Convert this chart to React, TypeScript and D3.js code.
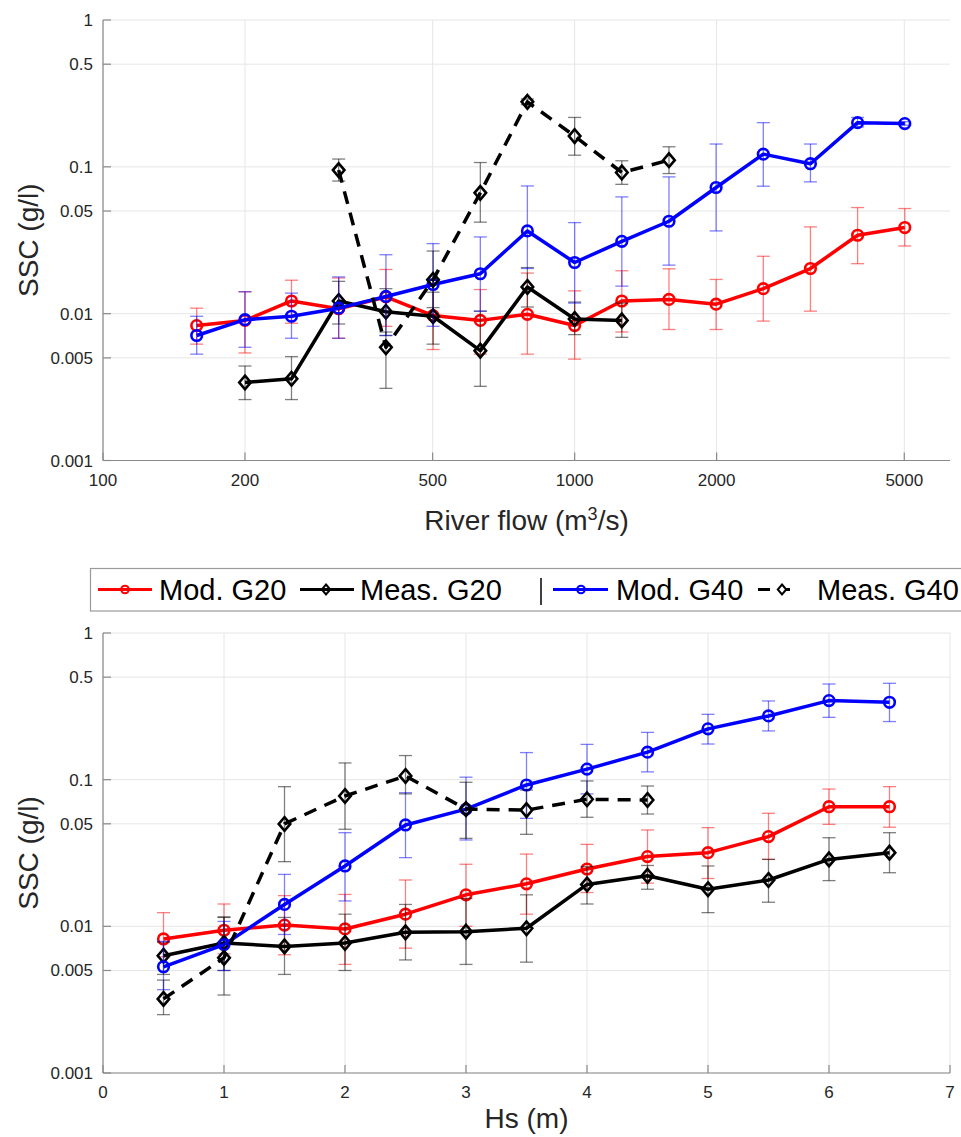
import React from "react";
import * as d3 from "d3";

// ---------- Data ----------
const flowBins = [158, 200, 251, 316, 398, 501, 631, 794, 1000, 1259, 1585, 1995, 2512, 3162, 3981, 5012];
const flowTicks = [100, 200, 500, 1000, 2000, 5000];
const sscTicks = [0.001, 0.005, 0.01, 0.05, 0.1, 0.5, 1];
const sscTickLabels = ["0.001", "0.005", "0.01", "0.05", "0.1", "0.5", "1"];

const topModG20 = [0.0083, 0.009, 0.0122, 0.0108, 0.013, 0.0097, 0.009, 0.0099, 0.0083, 0.0122, 0.0125, 0.0116, 0.0148, 0.0203, 0.0342, 0.0386];
const topModG20Hi = [0.0109, 0.0141, 0.0169, 0.0175, 0.02, 0.0171, 0.0146, 0.0189, 0.0143, 0.0196, 0.0202, 0.0171, 0.0246, 0.039, 0.0528, 0.052];
const topModG20Lo = [0.0062, 0.0054, 0.0086, 0.0068, 0.0082, 0.0057, 0.0053, 0.0053, 0.0049, 0.0075, 0.0078, 0.0078, 0.0089, 0.0104, 0.0219, 0.0289];

const topModG40 = [0.0071, 0.0091, 0.0096, 0.0109, 0.0131, 0.0158, 0.0187, 0.0366, 0.0223, 0.0311, 0.0426, 0.0723, 0.122, 0.105, 0.2, 0.197];
const topModG40Hi = [0.0096, 0.0141, 0.0138, 0.0178, 0.0252, 0.03, 0.0333, 0.0741, 0.0417, 0.0624, 0.0854, 0.143, 0.2, 0.143, 0.217, 0.203];
const topModG40Lo = [0.0053, 0.0059, 0.0068, 0.0068, 0.0071, 0.0082, 0.0104, 0.0203, 0.0118, 0.0154, 0.0214, 0.0366, 0.0738, 0.079, 0.187, 0.192];

const topMeasG20 = [null, 0.0034, 0.0036, 0.0122, 0.0103, 0.0096, 0.0056, 0.0152, 0.0092, 0.009, null, null, null, null, null, null];
const topMeasG20Hi = [null, 0.0044, 0.0051, 0.0166, 0.0148, 0.014, 0.0104, 0.0206, 0.012, 0.0118, null, null, null, null, null, null];
const topMeasG20Lo = [null, 0.0026, 0.0026, 0.0085, 0.0071, 0.0062, 0.0032, 0.0111, 0.0072, 0.0069, null, null, null, null, null, null];

const topMeasG40 = [null, null, null, 0.095, 0.0059, 0.017, 0.0665, 0.277, 0.162, 0.0915, 0.111, null, null, null, null, null];
const topMeasG40Hi = [null, null, null, 0.113, 0.0075, 0.0267, 0.107, 0.29, 0.217, 0.11, 0.137, null, null, null, null, null];
const topMeasG40Lo = [null, null, null, 0.08, 0.0031, 0.011, 0.042, 0.265, 0.12, 0.076, 0.09, null, null, null, null, null];

const hsBins = [0.5, 1, 1.5, 2, 2.5, 3, 3.5, 4, 4.5, 5, 5.5, 6, 6.5];
const hsTicks = [0, 1, 2, 3, 4, 5, 6, 7];

const botModG20 = [0.0082, 0.0094, 0.0102, 0.0096, 0.0121, 0.0164, 0.0195, 0.0246, 0.0299, 0.0318, 0.0409, 0.0654, 0.0654];
const botModG20Hi = [0.0124, 0.0142, 0.0162, 0.0165, 0.0207, 0.0265, 0.0311, 0.0362, 0.0454, 0.0471, 0.059, 0.0863, 0.0896];
const botModG20Lo = [0.0062, 0.0065, 0.0064, 0.0055, 0.0071, 0.01, 0.0121, 0.017, 0.0197, 0.0212, 0.0286, 0.0496, 0.0474];

const botMeasG20 = [0.0063, 0.0077, 0.0073, 0.0077, 0.0091, 0.0092, 0.0097, 0.0193, 0.0221, 0.0179, 0.0207, 0.0286, 0.0318];
const botMeasG20Hi = [0.0078, 0.0116, 0.0115, 0.0121, 0.0141, 0.0155, 0.0164, 0.0255, 0.026, 0.0258, 0.0286, 0.0402, 0.0435];
const botMeasG20Lo = [0.0047, 0.005, 0.0047, 0.005, 0.0059, 0.0055, 0.0057, 0.0142, 0.0179, 0.0124, 0.0146, 0.0205, 0.0232];

const botModG40 = [0.0053, 0.0075, 0.0141, 0.0258, 0.0491, 0.063, 0.092, 0.118, 0.154, 0.222, 0.272, 0.346, 0.337];
const botModG40Hi = [0.0079, 0.0108, 0.0226, 0.0435, 0.0815, 0.104, 0.153, 0.174, 0.21, 0.279, 0.344, 0.449, 0.454];
const botModG40Lo = [0.0037, 0.005, 0.0088, 0.0149, 0.0294, 0.0388, 0.0545, 0.08, 0.113, 0.175, 0.215, 0.266, 0.249];

const botMeasG40 = [0.0032, 0.0061, 0.0499, 0.0774, 0.106, 0.063, 0.062, 0.0735, 0.0727, null, null, null, null];
const botMeasG40Hi = [0.0043, 0.0115, 0.0896, 0.13, 0.146, 0.096, 0.085, 0.098, 0.0905, null, null, null, null];
const botMeasG40Lo = [0.0025, 0.0034, 0.0276, 0.0459, 0.08, 0.0398, 0.0424, 0.0554, 0.0583, null, null, null, null];

const legendLabels = ["Mod. G20", "Meas. G20", "Mod. G40", "Meas. G40"];

// ---------- Styles ----------
const RED = "#ff0000";
const BLUE = "#0000ff";
const BLACK = "#000000";
const FONT = "'Liberation Sans', Arial, Helvetica, sans-serif";
const GRID = "#e6e6e6";
const AXIS = "#8a8a8a";
const TICKTXT = "#262626";

type Series = {
  v: (number | null)[];
  hi: (number | null)[];
  lo: (number | null)[];
  color: string;
  marker: "circle" | "diamond";
  dashed?: boolean;
};

function diamondPath(cx: number, cy: number, h: number) {
  return `M${cx},${cy - h}L${cx + h * 0.85},${cy}L${cx},${cy + h}L${cx - h * 0.85},${cy}Z`;
}

function Panel(props: {
  xs: number[];
  xScale: (v: number) => number;
  yScale: d3.ScaleLogarithmic<number, number>;
  xTicks: number[];
  xTickLabels: string[];
  series: Series[];
  x0: number;
  x1: number;
  y0: number;
  y1: number;
  xLabel: React.ReactNode;
  xLabelY: number;
}) {
  const { xs, xScale, yScale, xTicks, xTickLabels, series, x0, x1, y0, y1 } = props;
  return (
    <g>
      {xTicks.map((t, i) => (
        <line key={"gx" + i} x1={xScale(t)} x2={xScale(t)} y1={y0} y2={y1} stroke={GRID} strokeWidth={1} />
      ))}
      {sscTicks.map((t, i) => (
        <line key={"gy" + i} x1={x0} x2={x1} y1={yScale(t)} y2={yScale(t)} stroke={GRID} strokeWidth={1} />
      ))}
      <line x1={x0} x2={x1} y1={y1} y2={y1} stroke={AXIS} strokeWidth={1.2} />
      <line x1={x0} x2={x0} y1={y0} y2={y1} stroke={AXIS} strokeWidth={1.2} />
      {xTicks.map((t, i) => (
        <g key={"tx" + i}>
          <line x1={xScale(t)} x2={xScale(t)} y1={y1} y2={y1 - 8} stroke={AXIS} strokeWidth={1.2} />
          <text x={xScale(t)} y={y1 + 25} textAnchor="middle" fontSize={17} fill={TICKTXT} fontFamily={FONT}>
            {xTickLabels[i]}
          </text>
        </g>
      ))}
      {sscTicks.map((t, i) => (
        <g key={"ty" + i}>
          <line x1={x0} x2={x0 + 8} y1={yScale(t)} y2={yScale(t)} stroke={AXIS} strokeWidth={1.2} />
          <text x={x0 - 10} y={yScale(t) + 6} textAnchor="end" fontSize={17} fill={TICKTXT} fontFamily={FONT}>
            {sscTickLabels[i]}
          </text>
        </g>
      ))}
      <text
        transform={`translate(38,${(y0 + y1) / 2}) rotate(-90)`}
        textAnchor="middle"
        fontSize={28}
        fill={TICKTXT}
        fontFamily={FONT}
      >
        SSC (g/l)
      </text>
      <text x={(x0 + x1) / 2} y={props.xLabelY} textAnchor="middle" fontSize={28} fill={TICKTXT} fontFamily={FONT}>
        {props.xLabel}
      </text>
      {series.map((s, si) => {
        const pts = xs.map((x, i) => ({ x, v: s.v[i], hi: s.hi[i], lo: s.lo[i] })).filter((p) => p.v != null) as {
          x: number;
          v: number;
          hi: number;
          lo: number;
        }[];
        const line = d3
          .line<{ x: number; v: number }>()
          .x((p) => xScale(p.x))
          .y((p) => yScale(p.v));
        return (
          <g key={"s" + si}>
            {pts.map((p, i) => {
              const cx = xScale(p.x);
              return (
                <g key={"e" + i} stroke={s.color} strokeOpacity={0.5} strokeWidth={1.3}>
                  <line x1={cx} x2={cx} y1={yScale(p.hi)} y2={yScale(p.lo)} />
                  <line x1={cx - 6.5} x2={cx + 6.5} y1={yScale(p.hi)} y2={yScale(p.hi)} />
                  <line x1={cx - 6.5} x2={cx + 6.5} y1={yScale(p.lo)} y2={yScale(p.lo)} />
                </g>
              );
            })}
            <path
              d={line(pts) || ""}
              fill="none"
              stroke={s.color}
              strokeWidth={3.5}
              strokeDasharray={s.dashed ? "13,9" : undefined}
              strokeLinejoin="round"
            />
            {pts.map((p, i) =>
              s.marker === "circle" ? (
                <circle key={"m" + i} cx={xScale(p.x)} cy={yScale(p.v)} r={5.3} fill="none" stroke={s.color} strokeWidth={2.6} />
              ) : (
                <path key={"m" + i} d={diamondPath(xScale(p.x), yScale(p.v), 6.8)} fill="none" stroke={s.color} strokeWidth={2.6} />
              )
            )}
          </g>
        );
      })}
    </g>
  );
}

export default function App() {
  const X0 = 103;
  const X1 = 950;

  const topX = d3.scaleLog().domain([100, 6250]).range([X0, X1]);
  const topY = d3.scaleLog().domain([0.001, 1]).range([460.5, 20]);
  const botX = d3.scaleLinear().domain([0, 7]).range([X0, X1]);
  const botY = d3.scaleLog().domain([0.001, 1]).range([1073, 633]);

  const topSeries: Series[] = [
    { v: topModG20, hi: topModG20Hi, lo: topModG20Lo, color: RED, marker: "circle" },
    { v: topMeasG20, hi: topMeasG20Hi, lo: topMeasG20Lo, color: BLACK, marker: "diamond" },
    { v: topModG40, hi: topModG40Hi, lo: topModG40Lo, color: BLUE, marker: "circle" },
    { v: topMeasG40, hi: topMeasG40Hi, lo: topMeasG40Lo, color: BLACK, marker: "diamond", dashed: true },
  ];
  const botSeries: Series[] = [
    { v: botModG20, hi: botModG20Hi, lo: botModG20Lo, color: RED, marker: "circle" },
    { v: botMeasG20, hi: botMeasG20Hi, lo: botMeasG20Lo, color: BLACK, marker: "diamond" },
    { v: botModG40, hi: botModG40Hi, lo: botModG40Lo, color: BLUE, marker: "circle" },
    { v: botMeasG40, hi: botMeasG40Hi, lo: botMeasG40Lo, color: BLACK, marker: "diamond", dashed: true },
  ];

  const legY = 589.5;
  return (
    <svg
      width={961}
      height={1137}
      style={{ position: "absolute", left: 0, top: 0, background: "#fff" }}
      xmlns="http://www.w3.org/2000/svg"
    >
      <rect x={0} y={0} width={961} height={1137} fill="#fff" />
      <Panel
        xs={flowBins}
        xScale={topX}
        yScale={topY}
        xTicks={flowTicks}
        xTickLabels={flowTicks.map(String)}
        series={topSeries}
        x0={X0}
        x1={X1}
        y0={20}
        y1={460.5}
        xLabel={
          <>
            River flow (m<tspan dy={-10} fontSize={18}>3</tspan>
            <tspan dy={10}>/s)</tspan>
          </>
        }
        xLabelY={530}
      />
      <Panel
        xs={hsBins}
        xScale={botX}
        yScale={botY}
        xTicks={hsTicks}
        xTickLabels={hsTicks.map(String)}
        series={botSeries}
        x0={X0}
        x1={X1}
        y0={633}
        y1={1073}
        xLabel={"Hs (m)"}
        xLabelY={1128}
      />
      <g fontFamily={FONT}>
        <rect x={90.5} y={568.5} width={900} height={42.5} fill="#fff" stroke="#9a9a9a" strokeWidth={1.2} />
        <line x1={98} x2={152} y1={legY} y2={legY} stroke={RED} strokeWidth={3} />
        <circle cx={125} cy={legY} r={3.8} fill="none" stroke={RED} strokeWidth={2} />
        <text x={159} y={600} fontSize={29} fill={BLACK}>{legendLabels[0]}</text>

        <line x1={300} x2={354} y1={legY} y2={legY} stroke={BLACK} strokeWidth={3} />
        <path d={diamondPath(326, legY, 5)} fill="none" stroke={BLACK} strokeWidth={2} />
        <text x={360} y={600} fontSize={29} fill={BLACK}>{legendLabels[1]}</text>

        <line x1={541} x2={541} y1={578} y2={605} stroke={BLACK} strokeWidth={1.5} />

        <line x1={553} x2={608} y1={legY} y2={legY} stroke={BLUE} strokeWidth={3} />
        <circle cx={581} cy={legY} r={3.8} fill="none" stroke={BLUE} strokeWidth={2} />
        <text x={616} y={600} fontSize={29} fill={BLACK}>{legendLabels[2]}</text>

        <line x1={758} x2={798} y1={legY} y2={legY} stroke={BLACK} strokeWidth={3} strokeDasharray="12,8" />
        <path d={diamondPath(782, legY, 5)} fill="#fff" stroke={BLACK} strokeWidth={2} />
        <text x={817} y={600} fontSize={29} fill={BLACK}>{legendLabels[3]}</text>
      </g>
    </svg>
  );
}
